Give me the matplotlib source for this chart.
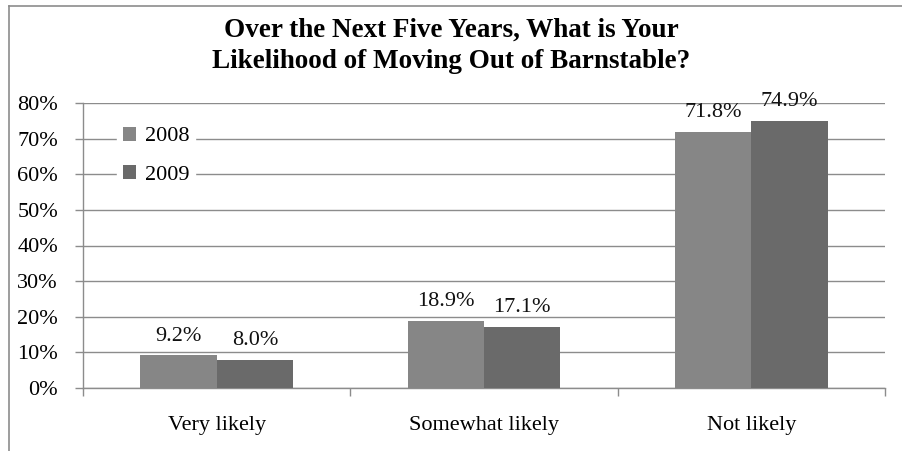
import matplotlib
matplotlib.use("Agg")
import matplotlib.pyplot as plt
import numpy as np
from matplotlib.lines import Line2D

categories = ["Very likely", "Somewhat likely", "Not likely"]
series_names = ["2008", "2009"]
values_2008 = [9.2, 18.9, 71.8]
values_2009 = [8.0, 17.1, 74.9]
yticks = [0, 10, 20, 30, 40, 50, 60, 70, 80]
title = "Over the Next Five Years, What is Your\nLikelihood of Moving Out of Barnstable?"

colors = ["#868686", "#6a6a6a"]
font = "Liberation Serif"
fs = 16

W, H = 902, 451
fig = plt.figure(figsize=(W / 100, H / 100), dpi=100)
ax = fig.add_axes([83 / W, 1 - 388 / H, (885 - 83) / W, (388 - 103) / H])

x = np.arange(len(categories))
bw = 0.286
b1 = ax.bar(x - bw / 2, values_2008, bw, color=colors[0], label=series_names[0], zorder=3)
b2 = ax.bar(x + bw / 2, values_2009, bw, color=colors[1], label=series_names[1], zorder=3)

for bars, vals in ((b1, values_2008), (b2, values_2009)):
    for r, v in zip(bars, vals):
        ax.annotate(f"{v:.1f}%", (r.get_x() + r.get_width() / 2, v), xytext=(0, 7),
                    textcoords="offset points", ha="center", va="bottom",
                    fontsize=fs, family=font, color="#111111", zorder=5)

ax.set_xlim(-0.5, len(categories) - 0.5)
ax.set_ylim(0, 80)
ax.set_yticks(yticks)
ax.set_yticklabels([f"{t}%" for t in yticks], family=font, fontsize=fs)
ax.yaxis.grid(True, color="#8c8c8c", linewidth=1.0, zorder=0)
ax.set_axisbelow(True)

ax.set_xticks(x)
ax.set_xticklabels(categories, family=font, fontsize=fs)
ax.set_xticks(np.arange(len(categories) + 1) - 0.5, minor=True)
ax.tick_params(axis="x", which="major", length=0, pad=20)
ax.tick_params(axis="x", which="minor", length=6, color="#8c8c8c", width=1)
ax.tick_params(axis="y", length=6, color="#8c8c8c", width=1, pad=12)

for s in ("top", "right"):
    ax.spines[s].set_visible(False)
for s in ("left", "bottom"):
    ax.spines[s].set_color("#8c8c8c")
    ax.spines[s].set_linewidth(1)

leg = ax.legend(loc="upper left", bbox_to_anchor=(34 / 802, 1 - 18 / 285),
                frameon=True, fancybox=False, edgecolor="white", facecolor="white",
                framealpha=1, prop={"family": font, "size": fs},
                handlelength=0.6, handleheight=0.6, handletextpad=0.4,
                labelspacing=0.85, borderpad=0.25, borderaxespad=0)
leg.set_zorder(4)

fig.text(0.5, 1 - 46 / H, title, ha="center", va="center", fontsize=19.5,
         fontweight="bold", family=font, linespacing=1.3)

# chart border
fig.add_artist(Line2D([9 / W, 9 / W], [0, 1 - 6 / H], transform=fig.transFigure,
                      color="#8c8c8c", linewidth=1.2))
fig.add_artist(Line2D([9 / W, 1], [1 - 6 / H, 1 - 6 / H], transform=fig.transFigure,
                      color="#8c8c8c", linewidth=1.2))

fig.savefig("out.png", dpi=100)
